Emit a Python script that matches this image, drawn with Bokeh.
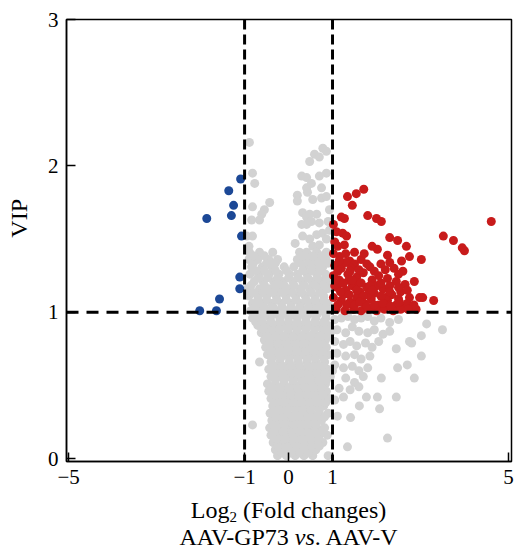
from bokeh.plotting import figure
from bokeh.models import Span, FixedTicker, Range1d, Div
from bokeh.layouts import column, row
from bokeh.embed import file_html
from bokeh.resources import INLINE

# ---------------- data ----------------
x_ticks = [-5, -1, 0, 1, 5]
x_tick_labels = {-5: "\u22125", -1: "\u22121", 0: "0", 1: "1", 5: "5"}
y_ticks = [0, 1, 2, 3]
fc_threshold = 1
vip_threshold = 1
y_title = "VIP"

blue_x = [-1.09, -1.36, -1.25, -1.30, -1.86, -1.07, -1.11, -1.11, -1.57, -2.02, -1.64]
blue_y = [1.91, 1.83, 1.73, 1.66, 1.64, 1.52, 1.24, 1.16, 1.09, 1.01, 1.01]

red_pts = [
    (1.34, 1.79), (1.54, 1.81), (1.71, 1.84), (1.45, 1.73), (1.20, 1.65), (1.27, 1.64), (1.80, 1.66),
    (2.00, 1.64), (2.11, 1.62), (1.09, 1.55), (1.23, 1.54), (1.32, 1.52), (2.30, 1.51), (2.48, 1.49),
    (2.68, 1.45), (1.27, 1.46), (2.02, 1.43), (2.25, 1.39), (2.75, 1.38), (2.57, 1.35), (1.16, 1.38),
    (1.39, 1.35), (4.61, 1.62), (3.52, 1.52), (3.75, 1.49), (4.00, 1.42), (3.95, 1.44), (3.02, 1.36),
    (2.86, 1.21), (2.98, 1.10), (3.05, 1.10), (3.30, 1.08), (2.90, 1.02),
    (1.05, 1.32), (1.20, 1.30), (1.50, 1.33), (1.65, 1.36), (1.85, 1.31), (2.10, 1.33), (2.40, 1.30), (2.60, 1.28),
    (1.02, 1.25), (1.15, 1.22), (1.35, 1.26), (1.55, 1.24), (1.70, 1.27), (1.90, 1.22), (2.05, 1.25),
    (2.25, 1.23), (2.45, 1.21), (2.65, 1.19),
    (1.10, 1.17), (1.30, 1.15), (1.45, 1.18), (1.62, 1.14), (1.78, 1.17), (1.95, 1.13), (2.15, 1.16),
    (2.35, 1.12), (2.55, 1.14), (2.75, 1.10),
    (1.02, 1.10), (1.20, 1.08), (1.40, 1.07), (1.55, 1.10), (1.72, 1.06), (1.88, 1.09), (2.05, 1.05),
    (2.25, 1.08), (2.45, 1.05), (2.62, 1.03),
    (1.08, 1.02), (1.28, 1.01), (1.48, 1.02), (1.65, 1.01), (1.82, 1.02), (2.00, 1.01), (2.18, 1.02),
    (2.38, 1.01), (2.55, 1.02),
    (1.05, 1.18), (1.25, 1.12), (1.60, 1.20), (1.80, 1.12), (2.00, 1.18), (2.20, 1.10), (1.38, 1.22),
    (1.12, 1.45), (1.50, 1.41), (1.72, 1.40), (1.90, 1.45), (1.30, 1.40),
    (1.12, 1.28), (1.30, 1.34), (1.42, 1.30), (1.60, 1.29), (1.78, 1.33), (1.95, 1.28), (2.20, 1.29), (2.50, 1.26),
    (1.08, 1.22), (1.25, 1.20), (1.45, 1.22), (1.65, 1.20), (1.85, 1.18), (2.10, 1.20), (2.30, 1.18),
    (2.50, 1.17), (2.70, 1.15),
    (1.18, 1.14), (1.38, 1.12), (1.55, 1.15), (1.70, 1.11), (1.90, 1.15), (2.10, 1.11), (2.30, 1.14),
    (2.50, 1.09), (2.70, 1.06), (2.85, 1.05),
    (1.12, 1.05), (1.32, 1.05), (1.50, 1.05), (1.62, 1.07), (1.78, 1.04), (1.95, 1.05), (2.15, 1.06),
    (2.32, 1.04), (2.52, 1.07), (2.72, 1.02),
    (1.02, 1.40), (1.05, 1.48), (1.15, 1.35), (1.02, 1.60), (1.40, 1.28), (2.30, 1.34),
]
red_x = [p[0] for p in red_pts]
red_y = [p[1] for p in red_pts]

# gray: non-significant metabolites, listed by VIP band
gray_pts = [
    # upper region
    (-0.89, 2.16), (0.59, 2.08), (0.70, 2.06), (0.86, 2.10), (0.78, 2.12), (0.48, 2.03),
    (-0.82, 1.95), (-0.77, 1.88), (0.30, 1.93), (0.41, 1.92), (0.70, 1.93), (0.41, 1.85),
    (0.52, 1.88), (0.43, 1.82), (0.75, 1.85), (0.86, 1.95), (0.20, 1.80),
    (0.20, 1.76), (0.55, 1.77), (0.75, 1.78), (0.86, 1.79), (-0.43, 1.75), (-0.55, 1.70),
    (-0.61, 1.67), (-0.66, 1.63), (-0.84, 1.63), (-0.82, 1.72), (0.32, 1.68), (0.41, 1.65),
    (0.48, 1.67), (0.64, 1.67), (0.30, 1.60), (0.41, 1.60), (0.52, 1.62), (0.70, 1.61),
    (0.93, 1.70), (0.90, 1.62),
    (0.32, 1.52), (0.48, 1.50), (0.64, 1.53), (0.77, 1.54), (0.86, 1.50), (-0.82, 1.52),
    (-0.95, 1.52), (-0.90, 1.45), (0.55, 1.45), (0.15, 1.47), (0.70, 1.46), (0.93, 1.56),
    # column
    (-0.89, 1.41), (-0.66, 1.41), (-0.36, 1.41), (0.25, 1.41), (0.41, 1.41), (0.64, 1.41), (0.86, 1.41),
    (-0.90, 1.36), (-0.70, 1.36), (-0.45, 1.36), (-0.25, 1.36), (0.20, 1.36), (0.45, 1.36), (0.65, 1.36), (0.86, 1.36),
    (-0.84, 1.31), (-0.60, 1.31), (-0.38, 1.31), (-0.10, 1.31), (0.12, 1.31), (0.36, 1.31), (0.58, 1.31), (0.78, 1.31),
    (-0.88, 1.26), (-0.66, 1.26), (-0.44, 1.26), (-0.22, 1.26), (0.02, 1.26), (0.20, 1.26), (0.42, 1.26), (0.64, 1.26), (0.84, 1.26),
    (-0.78, 1.21), (-0.58, 1.21), (-0.34, 1.21), (-0.14, 1.21), (0.10, 1.21), (0.32, 1.21), (0.54, 1.21), (0.74, 1.21), (0.92, 1.21),
    (-0.93, 1.16), (-0.66, 1.16), (-0.44, 1.16), (-0.20, 1.16), (0.00, 1.16), (0.25, 1.16), (0.48, 1.16), (0.70, 1.16), (0.88, 1.16),
    (-0.90, 1.11), (-0.70, 1.11), (-0.50, 1.11), (-0.28, 1.11), (-0.06, 1.11), (0.16, 1.11), (0.38, 1.11), (0.60, 1.11), (0.80, 1.11),
    (-0.82, 1.06), (-0.60, 1.06), (-0.38, 1.06), (-0.16, 1.06), (0.06, 1.06), (0.28, 1.06), (0.50, 1.06), (0.70, 1.06), (0.90, 1.06),
    (-0.86, 1.01), (-0.66, 1.01), (-0.46, 1.01), (-0.26, 1.01), (-0.05, 1.01), (0.15, 1.01), (0.35, 1.01), (0.55, 1.01), (0.75, 1.01), (0.93, 1.01),
    (-0.82, 0.96), (-0.62, 0.96), (-0.42, 0.96), (-0.20, 0.96), (0.00, 0.96), (0.20, 0.96), (0.40, 0.96), (0.62, 0.96), (0.85, 0.96),
    (-0.70, 0.91), (-0.50, 0.91), (-0.30, 0.91), (-0.10, 0.91), (0.10, 0.91), (0.30, 0.91), (0.50, 0.91), (0.70, 0.91), (0.90, 0.91),
    (-0.62, 0.86), (-0.42, 0.86), (-0.22, 0.86), (-0.02, 0.86), (0.18, 0.86), (0.38, 0.86), (0.58, 0.86), (0.78, 0.86), (0.95, 0.86),
    (-0.55, 0.81), (-0.35, 0.81), (-0.15, 0.81), (0.05, 0.81), (0.25, 0.81), (0.45, 0.81), (0.64, 0.81), (0.84, 0.81),
    (-0.52, 0.76), (-0.32, 0.76), (-0.12, 0.76), (0.08, 0.76), (0.28, 0.76), (0.46, 0.76), (0.66, 0.76), (0.86, 0.76),
    (-0.48, 0.71), (-0.28, 0.71), (-0.08, 0.71), (0.12, 0.71), (0.32, 0.71), (0.50, 0.71), (0.70, 0.71), (0.90, 0.71),
    (-0.66, 0.66), (-0.40, 0.66), (-0.20, 0.66), (0.02, 0.66), (0.22, 0.66), (0.42, 0.66), (0.62, 0.66), (0.82, 0.66),
    (-0.45, 0.61), (-0.25, 0.61), (-0.05, 0.61), (0.15, 0.61), (0.35, 0.61), (0.52, 0.61), (0.70, 0.61), (0.88, 0.61),
    (-0.40, 0.56), (-0.20, 0.56), (0.00, 0.56), (0.20, 0.56), (0.40, 0.56), (0.58, 0.56), (0.76, 0.56), (0.95, 0.56),
    (-0.48, 0.51), (-0.30, 0.51), (-0.10, 0.51), (0.10, 0.51), (0.28, 0.51), (0.46, 0.51), (0.64, 0.51), (0.84, 0.51),
    (-0.45, 0.46), (-0.25, 0.46), (-0.05, 0.46), (0.14, 0.46), (0.32, 0.46), (0.50, 0.46), (0.68, 0.46), (0.86, 0.46),
    (-0.40, 0.41), (-0.20, 0.41), (0.00, 0.41), (0.20, 0.41), (0.38, 0.41), (0.55, 0.41), (0.72, 0.41), (0.92, 0.41),
    (-0.36, 0.36), (-0.14, 0.36), (0.06, 0.36), (0.24, 0.36), (0.42, 0.36), (0.60, 0.36), (0.80, 0.36),
    (-0.42, 0.31), (-0.22, 0.31), (-0.02, 0.31), (0.16, 0.31), (0.34, 0.31), (0.52, 0.31), (0.70, 0.31), (0.90, 0.31),
    (-0.38, 0.26), (-0.18, 0.26), (0.02, 0.26), (0.20, 0.26), (0.38, 0.26), (0.56, 0.26), (0.75, 0.26),
    (-0.82, 0.23), (-0.43, 0.21), (-0.25, 0.21), (-0.05, 0.21), (0.15, 0.21), (0.30, 0.21), (0.48, 0.21), (0.65, 0.21), (0.82, 0.21),
    (-0.40, 0.16), (-0.20, 0.16), (0.00, 0.16), (0.18, 0.16), (0.35, 0.16), (0.52, 0.16), (0.70, 0.16), (0.88, 0.16),
    (-0.35, 0.11), (-0.15, 0.11), (0.05, 0.11), (0.22, 0.11), (0.40, 0.11), (0.58, 0.11), (0.78, 0.11),
    (-0.30, 0.06), (-0.10, 0.06), (0.10, 0.06), (0.28, 0.06), (0.45, 0.06), (0.62, 0.06),
    (-0.25, 0.02), (-0.05, 0.02), (0.15, 0.02), (0.35, 0.02), (0.55, 0.02), (0.90, 0.02),
    # column, in-between rows
    (-0.15, 0.04), (0.05, 0.04), (0.25, 0.04), (0.45, 0.04),
    (-0.25, 0.085), (-0.05, 0.085), (0.18, 0.085), (0.36, 0.085), (0.52, 0.085), (0.70, 0.085),
    (-0.28, 0.135), (-0.08, 0.135), (0.12, 0.135), (0.30, 0.135), (0.50, 0.135), (0.68, 0.135),
    (-0.32, 0.185), (-0.12, 0.185), (0.08, 0.185), (0.26, 0.185), (0.44, 0.185), (0.60, 0.185), (0.78, 0.185),
    (-0.30, 0.235), (-0.10, 0.235), (0.10, 0.235), (0.28, 0.235), (0.45, 0.235), (0.62, 0.235),
    (-0.30, 0.285), (-0.10, 0.285), (0.08, 0.285), (0.26, 0.285), (0.44, 0.285), (0.62, 0.285), (0.82, 0.285),
    (-0.26, 0.335), (-0.05, 0.335), (0.15, 0.335), (0.33, 0.335), (0.50, 0.335), (0.70, 0.335),
    (-0.30, 0.385), (-0.10, 0.385), (0.10, 0.385), (0.30, 0.385), (0.48, 0.385), (0.65, 0.385), (0.85, 0.385),
    (-0.32, 0.435), (-0.12, 0.435), (0.06, 0.435), (0.24, 0.435), (0.42, 0.435), (0.60, 0.435), (0.78, 0.435),
    (-0.38, 0.485), (-0.18, 0.485), (0.02, 0.485), (0.20, 0.485), (0.38, 0.485), (0.56, 0.485), (0.75, 0.485),
    (-0.30, 0.535), (-0.10, 0.535), (0.10, 0.535), (0.30, 0.535), (0.50, 0.535), (0.68, 0.535), (0.86, 0.535),
    (-0.32, 0.585), (-0.12, 0.585), (0.08, 0.585), (0.28, 0.585), (0.46, 0.585), (0.64, 0.585), (0.82, 0.585),
    (-0.35, 0.635), (-0.15, 0.635), (0.05, 0.635), (0.25, 0.635), (0.45, 0.635), (0.60, 0.635), (0.78, 0.635),
    (-0.38, 0.685), (-0.18, 0.685), (0.02, 0.685), (0.22, 0.685), (0.42, 0.685), (0.60, 0.685), (0.80, 0.685),
    (-0.40, 0.735), (-0.20, 0.735), (0.00, 0.735), (0.20, 0.735), (0.40, 0.735), (0.58, 0.735), (0.78, 0.735),
    (-0.45, 0.785), (-0.25, 0.785), (-0.05, 0.785), (0.15, 0.785), (0.35, 0.785), (0.55, 0.785), (0.75, 0.785),
    (-0.50, 0.835), (-0.30, 0.835), (-0.10, 0.835), (0.10, 0.835), (0.30, 0.835), (0.50, 0.835), (0.70, 0.835), (0.90, 0.835),
    (-0.58, 0.885), (-0.38, 0.885), (-0.20, 0.885), (0.00, 0.885), (0.20, 0.885), (0.40, 0.885), (0.60, 0.885), (0.80, 0.885),
    (-0.75, 0.935), (-0.60, 0.935), (-0.40, 0.935), (-0.20, 0.935), (0.00, 0.935), (0.20, 0.935), (0.40, 0.935), (0.60, 0.935), (0.80, 0.935),
    (-0.75, 0.985), (-0.55, 0.985), (-0.35, 0.985), (-0.15, 0.985), (0.05, 0.985), (0.25, 0.985), (0.45, 0.985), (0.65, 0.985), (0.85, 0.985),
    (-0.75, 1.035), (-0.55, 1.035), (-0.35, 1.035), (-0.15, 1.035), (0.05, 1.035), (0.25, 1.035), (0.45, 1.035), (0.65, 1.035), (0.85, 1.035),
    (-0.70, 1.085), (-0.50, 1.085), (-0.27, 1.085), (-0.05, 1.085), (0.17, 1.085), (0.40, 1.085), (0.60, 1.085), (0.80, 1.085),
    (-0.80, 1.135), (-0.58, 1.135), (-0.36, 1.135), (-0.14, 1.135), (0.08, 1.135), (0.30, 1.135), (0.52, 1.135), (0.74, 1.135),
    (-0.85, 1.185), (-0.55, 1.185), (-0.30, 1.185), (-0.10, 1.185), (0.12, 1.185), (0.36, 1.185), (0.60, 1.185), (0.80, 1.185),
    (-0.70, 1.235), (-0.48, 1.235), (-0.25, 1.235), (0.00, 1.235), (0.22, 1.235), (0.44, 1.235), (0.66, 1.235), (0.86, 1.235),
    (-0.76, 1.285), (-0.55, 1.285), (-0.30, 1.285), (-0.05, 1.285), (0.32, 1.285), (0.52, 1.285), (0.72, 1.285),
    (-0.80, 1.335), (-0.50, 1.335), (-0.30, 1.335), (0.28, 1.335), (0.50, 1.335), (0.70, 1.335), (0.90, 1.335),
    (-0.80, 1.385), (-0.55, 1.385), (0.32, 1.385), (0.55, 1.385), (0.76, 1.385),
    # right of fold-change threshold, below VIP threshold
    (1.05, 0.95), (1.20, 0.96), (1.35, 0.97), (1.50, 0.95), (1.65, 0.96), (1.80, 0.97), (1.95, 0.94),
    (2.10, 0.96), (2.30, 0.93), (2.50, 0.95), (3.50, 0.88), (3.14, 0.92), (3.02, 0.84), (2.75, 0.80),
    (2.80, 0.79), (2.45, 0.75), (3.02, 0.70), (2.48, 0.62), (2.70, 0.64), (2.86, 0.55), (2.11, 0.55),
    (2.45, 0.42), (2.02, 0.42), (2.07, 0.34), (1.77, 0.42), (1.61, 0.36), (1.41, 0.28), (1.11, 0.29),
    (2.25, 0.14), (1.34, 0.08),
    (1.10, 0.88), (1.30, 0.86), (1.45, 0.90), (1.60, 0.87), (1.80, 0.86), (1.95, 0.88), (2.15, 0.85), (2.30, 0.87),
    (1.05, 0.80), (1.25, 0.78), (1.40, 0.80), (1.55, 0.77), (1.75, 0.79), (1.90, 0.76), (2.05, 0.80),
    (1.10, 0.72), (1.30, 0.70), (1.50, 0.71), (1.65, 0.68), (1.85, 0.70),
    (1.05, 0.64), (1.25, 0.62), (1.45, 0.63), (1.60, 0.60), (1.80, 0.62),
    (1.30, 0.55), (1.50, 0.52), (1.70, 0.56), (1.15, 0.48), (1.40, 0.47), (1.60, 0.49),
    (1.05, 0.40), (1.25, 0.42), (1.00, 0.60),
]
gray_x = [p[0] for p in gray_pts]
gray_y = [p[1] for p in gray_pts]

# ---------------- figure ----------------
SERIF = "Liberation Serif"
VIP_W = 34
FIG_W = 517 - VIP_W

p = figure(width=FIG_W, height=495, output_backend="svg", toolbar_location=None,
           x_range=Range1d(-5.05, 5.07), y_range=Range1d(-0.02, 3.0),
           min_border_left=66 - VIP_W, min_border_right=6, min_border_top=19, min_border_bottom=34,
           background_fill_color="white", border_fill_color="white")
p.grid.visible = False
p.outline_line_color = "black"
p.outline_line_width = 1.5
p.outline_line_alpha = 1

p.scatter(gray_x, gray_y, size=9, fill_color="#d2d2d2", line_color=None)
p.scatter(red_x, red_y, size=9, fill_color="#c81b1b", line_color=None)
p.scatter(blue_x, blue_y, size=9, fill_color="#1c4896", line_color=None)

for loc in (-fc_threshold, fc_threshold):
    p.add_layout(Span(location=loc, dimension="height", line_color="black",
                      line_width=3, line_dash="10 5"))
p.add_layout(Span(location=vip_threshold, dimension="width", line_color="black",
                  line_width=3, line_dash="12 8"))

for ax in (p.xaxis[0], p.yaxis[0]):
    ax.axis_line_width = 1.5
    ax.major_tick_in = 9
    ax.major_tick_out = 0
    ax.major_tick_line_width = 1.5
    ax.minor_tick_line_color = None
    ax.major_label_text_font = SERIF
    ax.major_label_text_font_size = "21px"
    ax.major_label_text_color = "black"
    ax.major_label_standoff = 8

p.xaxis.ticker = FixedTicker(ticks=x_ticks)
p.xaxis.major_label_overrides = x_tick_labels
p.yaxis.ticker = FixedTicker(ticks=y_ticks)

vip_html = (
    '<div style="writing-mode: vertical-rl; transform: rotate(180deg); '
    'font-family: \'Liberation Serif\', serif; font-size: 24px; line-height: 28px; color: black; '
    'margin-top: 199px; margin-left: 5px; white-space: nowrap;">' + y_title + '</div>'
)
vip_div = Div(text=vip_html, width=VIP_W, height=495, margin=0)

x_title_html = (
    '<div style="width: ' + str(FIG_W) + 'px; box-sizing: border-box; padding-left: 26px; margin-top: 2px; '
    'font-family: \'Liberation Serif\', serif; color: black; text-align: center;">'
    '<div style="font-size: 24px; height: 27px; line-height: 27px;">Log<span style="font-size: 15px; '
    'position: relative; top: 4px;">2</span> (Fold changes)</div>'
    '<div style="font-size: 24px; height: 27px; line-height: 27px;">AAV-GP73 <i>vs</i>. AAV-V</div>'
    '</div>'
)
x_title = Div(text=x_title_html, width=FIG_W, height=56, margin=0)

layout = row(vip_div, column(p, x_title, spacing=0), spacing=0)

open("out.html", "w").write(file_html(layout, INLINE))
